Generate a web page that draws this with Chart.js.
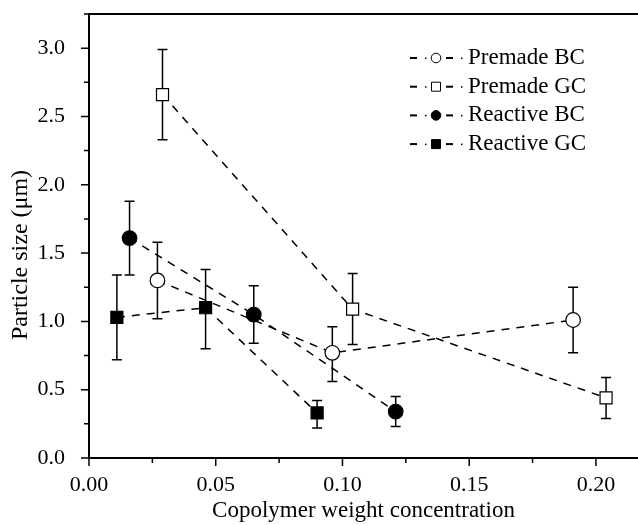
<!DOCTYPE html>
<html>
<head>
<meta charset="utf-8">
<script src="https://cdn.jsdelivr.net/npm/chart.js@4.4.1/dist/chart.umd.min.js"></script>
<style>
  html, body { margin: 0; padding: 0; background: #fff; }
</style>
</head>
<body>
<canvas id="sizeChart" width="638" height="525"></canvas>
<script>
// values
var seriesNames = ['Premade BC', 'Premade GC', 'Reactive BC', 'Reactive GC'];

var premadeBcX = [0.027, 0.096, 0.191];
var premadeBcY = [1.30, 0.77, 1.01];
var premadeBcLow = [1.02, 0.56, 0.77];
var premadeBcHigh = [1.58, 0.96, 1.25];

var premadeGcX = [0.029, 0.104, 0.204];
var premadeGcY = [2.66, 1.09, 0.44];
var premadeGcLow = [2.33, 0.83, 0.29];
var premadeGcHigh = [2.99, 1.35, 0.59];

var reactiveBcX = [0.016, 0.065, 0.121];
var reactiveBcY = [1.61, 1.05, 0.34];
var reactiveBcLow = [1.34, 0.84, 0.23];
var reactiveBcHigh = [1.88, 1.26, 0.45];

var reactiveGcX = [0.011, 0.046, 0.090];
var reactiveGcY = [1.03, 1.10, 0.33];
var reactiveGcLow = [0.72, 0.80, 0.22];
var reactiveGcHigh = [1.34, 1.38, 0.42];

var xTitle = 'Copolymer weight concentration';
var yTitle = 'Particle size (\u03bcm)';

var serif = '"Liberation Serif", "Times New Roman", serif';

function points(xs, ys) {
  return xs.map(function(x, i) { return { x: x, y: ys[i] }; });
}

function isMajor(v, step) {
  var r = v / step;
  return Math.abs(r - Math.round(r)) < 1e-6;
}

function makeSeries(name, xs, ys, lo, hi, style, filled) {
  return {
    label: name,
    data: points(xs, ys),
    errLow: lo,
    errHigh: hi,
    showLine: true,
    borderColor: '#000',
    borderWidth: 1.5,
    borderDash: [8, 7],
    pointStyle: style,
    pointRadius: style === 'rect' ? 8.5 : 7.3,
    pointBorderWidth: 1.2,
    pointBorderColor: '#000',
    pointBackgroundColor: filled ? '#000' : '#fff',
    filled: filled
  };
}

// vertical error bars with caps, drawn under the markers
var errorBars = {
  id: 'errorBars',
  beforeDatasetsDraw: function(chart) {
    var ctx = chart.ctx, xs = chart.scales.x, ys = chart.scales.y;
    ctx.save();
    ctx.strokeStyle = '#000';
    ctx.lineWidth = 1.5;
    chart.data.datasets.forEach(function(ds) {
      ds.data.forEach(function(p, i) {
        var px = xs.getPixelForValue(p.x);
        var top = ys.getPixelForValue(ds.errHigh[i]);
        var bot = ys.getPixelForValue(ds.errLow[i]);
        ctx.beginPath();
        ctx.moveTo(px, top); ctx.lineTo(px, bot);
        ctx.moveTo(px - 5, top); ctx.lineTo(px + 5, top);
        ctx.moveTo(px - 5, bot); ctx.lineTo(px + 5, bot);
        ctx.stroke();
      });
    });
    ctx.restore();
  }
};

// tick marks, top frame line, y title and the legend
var frameAndLegend = {
  id: 'frameAndLegend',
  afterDraw: function(chart) {
    var ctx = chart.ctx, area = chart.chartArea;
    var xs = chart.scales.x, ys = chart.scales.y;
    ctx.save();
    ctx.strokeStyle = '#000';
    ctx.lineWidth = 1.5;
    ctx.beginPath();
    xs.ticks.forEach(function(t) {
      var px = xs.getPixelForValue(t.value);
      var len = isMajor(t.value, 0.05) ? 8 : 5;
      ctx.moveTo(px, area.bottom); ctx.lineTo(px, area.bottom + len);
    });
    ys.ticks.forEach(function(t) {
      var py = ys.getPixelForValue(t.value);
      var len = isMajor(t.value, 0.5) ? 8 : 5;
      ctx.moveTo(area.left, py); ctx.lineTo(area.left - len, py);
    });
    ctx.stroke();

    ctx.lineWidth = 2;
    ctx.beginPath();
    ctx.moveTo(area.left - 1, area.top);
    ctx.lineTo(area.right, area.top);
    ctx.stroke();

    ctx.fillStyle = '#000';
    ctx.font = '24px ' + serif;
    ctx.textAlign = 'center';
    ctx.textBaseline = 'middle';
    ctx.translate(21, 255);
    ctx.rotate(-Math.PI / 2);
    ctx.fillText(yTitle, 0, 0);
    ctx.restore();

    // legend: "- ·o- ·" sample then label
    ctx.save();
    ctx.font = '23px ' + serif;
    ctx.textAlign = 'left';
    ctx.textBaseline = 'middle';
    chart.data.datasets.forEach(function(ds, i) {
      var y = 58 + i * 28.7;
      var x0 = 410;
      ctx.fillStyle = '#000';
      ctx.fillRect(x0, y - 1, 7, 2);
      ctx.fillRect(x0 + 15, y - 0.5, 1.5, 1.5);
      ctx.fillRect(x0 + 36, y - 1, 7, 2);
      ctx.fillRect(x0 + 51, y - 0.5, 1.5, 1.5);
      var mx = x0 + 26;
      ctx.lineWidth = 1;
      ctx.strokeStyle = '#000';
      ctx.fillStyle = ds.filled ? '#000' : '#fff';
      ctx.beginPath();
      if (ds.pointStyle === 'rect') {
        ctx.rect(mx - 4.5, y - 4.5, 9, 9);
      } else {
        ctx.arc(mx, y, 4.8, 0, Math.PI * 2);
      }
      ctx.fill();
      ctx.stroke();
      ctx.fillStyle = '#000';
      ctx.fillText(ds.label, 468, y);
    });
    ctx.restore();
  }
};

window.onload = function() {
  var ctx = document.getElementById('sizeChart').getContext('2d');
  var chart = new Chart(ctx, {
    type: 'scatter',
    data: {
      datasets: [
        makeSeries(seriesNames[0], premadeBcX, premadeBcY, premadeBcLow, premadeBcHigh, 'circle', false),
        makeSeries(seriesNames[1], premadeGcX, premadeGcY, premadeGcLow, premadeGcHigh, 'rect', false),
        makeSeries(seriesNames[2], reactiveBcX, reactiveBcY, reactiveBcLow, reactiveBcHigh, 'circle', true),
        makeSeries(seriesNames[3], reactiveGcX, reactiveGcY, reactiveGcLow, reactiveGcHigh, 'rect', true)
      ]
    },
    options: {
      responsive: false,
      animation: false,
      devicePixelRatio: 1,
      layout: { autoPadding: false, padding: { top: 14, right: 0, left: 0, bottom: 0 } },
      plugins: {
        legend: { display: false },
        tooltip: { enabled: false }
      },
      scales: {
        x: {
          type: 'linear',
          min: 0,
          max: 0.2166,
          afterFit: function(scale) {
            scale.height = 67;
            scale.paddingLeft = 0;
            scale.paddingRight = 0;
          },
          grid: { display: false },
          border: { display: true, color: '#000', width: 2 },
          ticks: {
            stepSize: 0.025,
            includeBounds: false,
            autoSkip: false,
            maxRotation: 0,
            padding: 6,
            color: '#000',
            font: { family: serif, size: 22 },
            callback: function(v) { return isMajor(v, 0.05) ? v.toFixed(2) : ''; }
          },
          title: {
            display: true,
            text: xTitle,
            color: '#000',
            font: { family: serif, size: 23 },
            padding: { top: 4, bottom: 0 }
          }
        },
        y: {
          min: 0,
          max: 3.25,
          afterFit: function(scale) {
            scale.width = 89;
            scale.paddingTop = 0;
            scale.paddingBottom = 0;
          },
          grid: { display: false },
          border: { display: true, color: '#000', width: 2 },
          ticks: {
            stepSize: 0.25,
            includeBounds: false,
            autoSkip: false,
            padding: 16,
            color: '#000',
            font: { family: serif, size: 22 },
            callback: function(v) { return isMajor(v, 0.5) ? v.toFixed(1) : ''; }
          }
        }
      }
    },
    plugins: [errorBars, frameAndLegend]
  });
};
</script>
</body>
</html>
